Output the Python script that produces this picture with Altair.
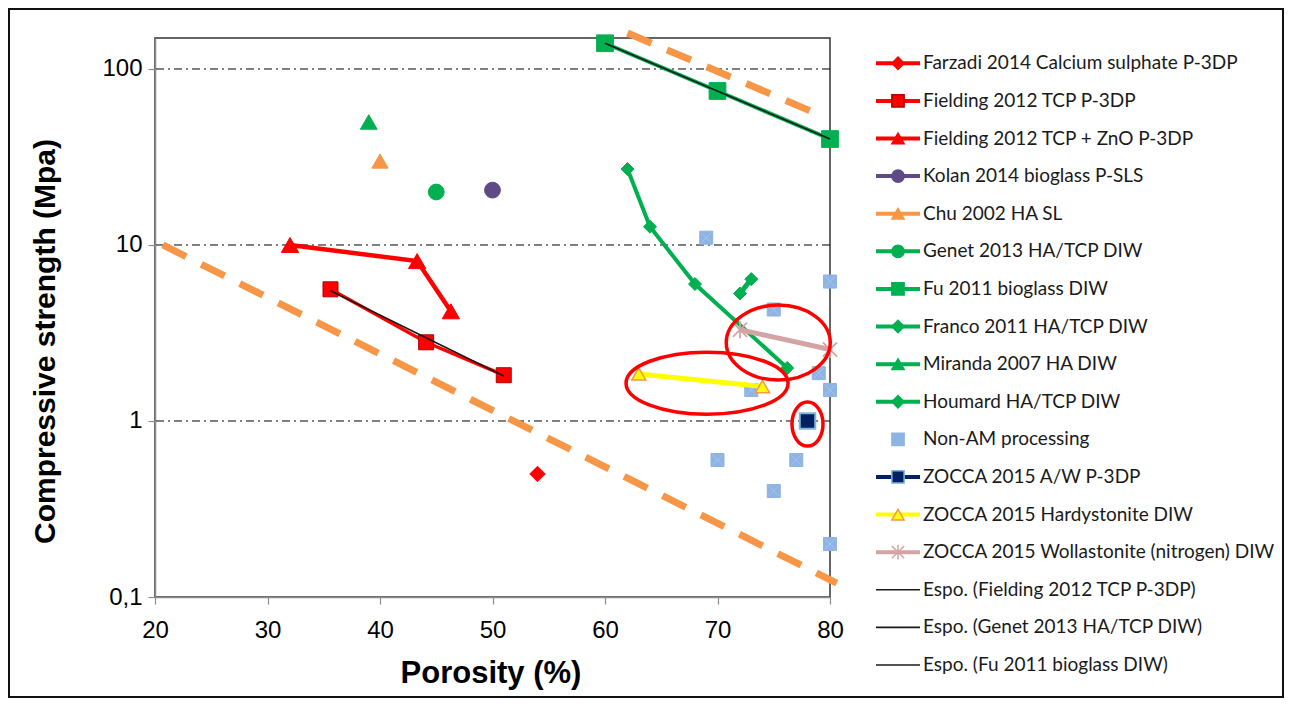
import altair as alt
import pandas as pd

# ---------------- data ----------------
farzadi_x = [54.0]
farzadi_y = [0.50]
fielding_x = [35.6, 44.1, 51.0]
fielding_y = [5.6, 2.8, 1.82]
fielding_zno_x = [32.0, 43.3, 46.3]
fielding_zno_y = [10.0, 8.1, 4.2]
kolan_x = [50.0]
kolan_y = [20.5]
chu_x = [40.0]
chu_y = [30.0]
genet_x = [45.0]
genet_y = [20.0]
fu_x = [60.0, 70.0, 80.0]
fu_y = [140.0, 75.0, 40.0]
franco_x = [62.0, 64.0, 68.0, 76.2]
franco_y = [27.0, 12.7, 6.0, 2.0]
miranda_x = [39.0]
miranda_y = [50.0]
houmard_x = [72.0, 73.0]
houmard_y = [5.3, 6.4]
nonam_x = [69.0, 80.0, 75.0, 79.0, 73.0, 80.0, 70.0, 77.0, 75.0, 80.0]
nonam_y = [11.0, 6.2, 4.3, 1.87, 1.5, 1.5, 0.6, 0.6, 0.4, 0.2]
aw_x = [78.0]
aw_y = [1.0]
hardy_x = [63.0, 74.0]
hardy_y = [1.85, 1.57]
woll_x = [72.0, 80.0]
woll_y = [3.3, 2.55]
trend_fielding_x = [35.6, 51.0]
trend_fielding_y = [5.5, 1.8]
trend_fu_x = [60.0, 80.0]
trend_fu_y = [140.0, 40.0]
bound_low_x = [20.7, 80.6]
bound_low_y = [10.0, 0.12]
bound_high_x = [62.0, 78.2]
bound_high_y = [160.0, 58.0]
ellipse_x = [69.07, 75.4, 78.0]
ellipse_y = [1.64, 2.79, 0.96]
grid_vals = [1, 10, 100]
y_ticks = [0.1, 1, 10, 100]
x_ticks = [20, 30, 40, 50, 60, 70, 80]

legend_names = [
    "Farzadi 2014 Calcium sulphate P-3DP",
    "Fielding 2012 TCP P-3DP",
    "Fielding 2012 TCP + ZnO P-3DP",
    "Kolan 2014 bioglass P-SLS",
    "Chu 2002 HA SL",
    "Genet 2013 HA/TCP DIW",
    "Fu 2011 bioglass DIW",
    "Franco 2011 HA/TCP DIW",
    "Miranda 2007 HA DIW",
    "Houmard HA/TCP DIW",
    "Non-AM processing",
    "ZOCCA 2015 A/W P-3DP",
    "ZOCCA 2015 Hardystonite DIW",
    "ZOCCA 2015 Wollastonite (nitrogen) DIW",
    "Espo. (Fielding 2012 TCP P-3DP)",
    "Espo. (Genet 2013 HA/TCP DIW)",
    "Espo. (Fu 2011 bioglass DIW)",
]

# ---------------- styles ----------------
RED = "#ff0000"
DARKRED = "#b00000"
PURPLE = "#5f4a86"
ORANGE = "#f79646"
GREEN = "#00b050"
LBLUE = "#8eb4e3"
NAVY = "#002060"
NAVY_EDGE = "#7fb6dc"
YELLOW = "#ffff00"
PINK = "#d4a3a3"
TREND = "#1a1a1a"

W, H = 675, 559
ASTER = "M -1 -1 L 1 1 M -1 1 L 1 -1 M 0 -1.2 L 0 1.2"
XMARK = "M -0.8 -0.8 L 0.8 0.8 M -0.8 0.8 L 0.8 -0.8"


def ellipse_path(rx, ry):
    k = 0.5523
    return (f"M {rx} 0 C {rx} {k*ry} {k*rx} {ry} 0 {ry} "
            f"C {-k*rx} {ry} {-rx} {k*ry} {-rx} 0 "
            f"C {-rx} {-k*ry} {-k*rx} {-ry} 0 {-ry} "
            f"C {k*rx} {-ry} {rx} {-k*ry} {rx} 0 Z")


X_AXIS = alt.Axis(values=x_ticks, title="Porosity (%)", grid=False,
                  domainColor="#8c8c8c", domainWidth=1.5, tickColor="#8c8c8c",
                  tickSize=7, tickWidth=1.2, labelFont="Liberation Sans",
                  labelFontSize=24, labelColor="#000", labelPadding=14,
                  titleFont="Liberation Sans", titleFontSize=31, titleFontWeight="bold",
                  titleColor="#000", titleX=W / 2 - 2, titleY=76, titleBaseline="middle",
                  labelFlush=False)


def X():
    return alt.X("x:Q", scale=alt.Scale(domain=[20, 80], nice=False, zero=False),
                 axis=X_AXIS)


def Y(axis=False):
    ax = None
    if axis:
        ax = alt.Axis(values=y_ticks, title="Compressive strength (Mpa)", grid=False,
                      labelExpr="datum.value < 1 ? '0,1' : format(datum.value, '.0f')",
                      domainColor="#8c8c8c", domainWidth=1.5, tickColor="#8c8c8c",
                      tickSize=7, tickWidth=1.2, labelFont="Liberation Sans",
                      labelFontSize=24, labelColor="#000", labelPadding=6,
                      titleFont="Liberation Sans", titleFontSize=30, titleFontWeight="bold",
                      titleColor="#000", titleX=-110, titleY=303, titleBaseline="middle",
                      titleAngle=270, labelFlush=False)
    return alt.Y("y:Q", scale=alt.Scale(type="log", domain=[0.1, 150], nice=False), axis=ax)


def df(xs, ys):
    return pd.DataFrame({"x": xs, "y": ys})


layers = []

# gridlines (dash-dot)
layers.append(
    alt.Chart(pd.DataFrame({"y": grid_vals})).mark_rule(
        color="#000", strokeWidth=1, strokeDash=[8, 4, 2, 4]
    ).encode(y=Y())
)

# axes carrier (invisible)
layers.append(
    alt.Chart(df(farzadi_x, farzadi_y)).mark_point(opacity=0).encode(x=X(), y=Y(True))
)

# orange dashed bounds
for bx, by in [(bound_low_x, bound_low_y), (bound_high_x, bound_high_y)]:
    layers.append(
        alt.Chart(df(bx, by)).mark_line(color=ORANGE, strokeWidth=7, strokeDash=[26, 17],
                                        strokeCap="butt", clip=False).encode(x=X(), y=Y())
    )


def series(xs, ys, color, shape=None, size=220, line=False, lw=4, fill=None,
           stroke=None, sw=1, filled=True):
    base = alt.Chart(df(xs, ys)).encode(x=X(), y=Y())
    out = []
    if line:
        out.append(base.mark_line(color=color, strokeWidth=lw))
    if shape is not None:
        out.append(base.mark_point(shape=shape, size=size, filled=filled,
                                   fill=fill or color, stroke=stroke or color,
                                   strokeWidth=sw, opacity=1))
    return out


layers += series(farzadi_x, farzadi_y, RED, "diamond", size=240)
layers += series(fielding_x, fielding_y, RED, "square", size=225, line=True, lw=3.5,
                 stroke=DARKRED)
layers += series(fielding_zno_x, fielding_zno_y, RED, "triangle-up", size=300, line=True, lw=4.5)
layers += series(kolan_x, kolan_y, PURPLE, "circle", size=250)
layers += series(chu_x, chu_y, ORANGE, "triangle-up", size=270)
layers += series(genet_x, genet_y, GREEN, "circle", size=250)
layers += series(fu_x, fu_y, GREEN, "square", size=280, line=True, lw=4)
layers += series(franco_x, franco_y, GREEN, "diamond", size=170, line=True, lw=4)
layers += series(miranda_x, miranda_y, GREEN, "triangle-up", size=280)
layers += series(houmard_x, houmard_y, GREEN, "diamond", size=170, line=True, lw=5)
layers += series(nonam_x, nonam_y, LBLUE, "square", size=170)
layers.append(
    alt.Chart(df(nonam_x, nonam_y)).mark_point(shape=XMARK, size=170, filled=False,
                                               stroke="#a9c4e8", strokeWidth=1,
                                               opacity=1).encode(x=X(), y=Y())
)
layers += series(aw_x, aw_y, NAVY, "square", size=240, stroke=NAVY_EDGE, sw=2)
layers += series(hardy_x, hardy_y, YELLOW, "triangle-up", size=200, line=True, lw=5,
                 stroke=ORANGE, sw=1.5)
layers += series(woll_x, woll_y, PINK, line=True, lw=5)
layers.append(
    alt.Chart(df(woll_x, woll_y)).mark_point(shape=ASTER, size=200, filled=False,
                                             stroke=PINK, strokeWidth=1.8,
                                             opacity=1).encode(x=X(), y=Y())
)

# exponential trendlines
for tx, ty in [(trend_fielding_x, trend_fielding_y), (trend_fu_x, trend_fu_y)]:
    layers.append(
        alt.Chart(df(tx, ty)).mark_line(color=TREND, strokeWidth=1.6).encode(x=X(), y=Y())
    )

# red highlight ellipses
ell_specs = [(1.0, 0.383, 162 ** 2), (1.0, 0.721, 104 ** 2), (0.705, 1.0, 44 ** 2)]
for i, (rx, ry, sz) in enumerate(ell_specs):
    layers.append(
        alt.Chart(df([ellipse_x[i]], [ellipse_y[i]])).mark_point(
            shape=ellipse_path(rx, ry), size=sz, filled=False, stroke=RED,
            strokeWidth=3.5, opacity=1, clip=False
        ).encode(x=X(), y=Y())
    )

# ---------------- custom legend ----------------
LY = alt.Y("name:N", scale=alt.Scale(type="point", domain=legend_names,
                                     range=[25.3, 627.0], padding=0), axis=None)
LX0, LX1, LXM, LXT = 721, 765, 743, 768

line_names = legend_names[:10] + legend_names[11:14]
line_colors = [RED, RED, RED, PURPLE, ORANGE, GREEN, GREEN, GREEN, GREEN, GREEN,
               NAVY, YELLOW, PINK]
layers.append(
    alt.Chart(pd.DataFrame({"name": line_names})).mark_rule(strokeWidth=4).encode(
        y=LY, x=alt.value(LX0), x2=alt.value(LX1),
        color=alt.Color("name:N", scale=alt.Scale(domain=line_names, range=line_colors),
                        legend=None)
    )
)
layers.append(
    alt.Chart(pd.DataFrame({"name": legend_names[14:]})).mark_rule(
        strokeWidth=1.6, color=TREND
    ).encode(y=LY, x=alt.value(LX0), x2=alt.value(LX1))
)

mk_names = legend_names[:14]
mk_shapes = ["diamond", "square", "triangle-up", "circle", "triangle-up", "circle",
             "square", "diamond", "triangle-up", "diamond", "square", "square",
             "triangle-up", ASTER]
mk_fill = [RED, RED, RED, PURPLE, ORANGE, GREEN, GREEN, GREEN, GREEN, GREEN, LBLUE,
           NAVY, YELLOW, PINK]
mk_stroke = [RED, DARKRED, RED, PURPLE, ORANGE, GREEN, GREEN, GREEN, GREEN, GREEN,
             LBLUE, NAVY_EDGE, ORANGE, PINK]
layers.append(
    alt.Chart(pd.DataFrame({"name": mk_names})).mark_point(
        filled=True, size=150, strokeWidth=1.5, opacity=1
    ).encode(
        y=LY, x=alt.value(LXM),
        shape=alt.Shape("name:N", scale=alt.Scale(domain=mk_names, range=mk_shapes),
                        legend=None),
        fill=alt.Fill("name:N", scale=alt.Scale(domain=mk_names, range=mk_fill),
                      legend=None),
        stroke=alt.Stroke("name:N", scale=alt.Scale(domain=mk_names, range=mk_stroke),
                          legend=None),
    )
)
layers.append(
    alt.Chart(pd.DataFrame({"name": legend_names})).mark_text(
        align="left", baseline="middle", font="Lato", fontSize=19, color="#1a1a1a"
    ).encode(y=LY, x=alt.value(LXT), text="name:N")
)

# outer frame of the whole figure
layers.append(
    alt.Chart(pd.DataFrame({"a": [0]})).mark_rect(
        fillOpacity=0, stroke="#111", strokeWidth=2, clip=False
    ).encode(x=alt.value(-146), x2=alt.value(1128), y=alt.value(-29), y2=alt.value(659))
)

chart = alt.layer(*layers).resolve_scale(y="independent").properties(
    width=W, height=H,
    autosize=alt.AutoSizeParams(type="none"),
    padding={"left": 147, "top": 30, "right": 455, "bottom": 101},
    background="white",
).configure_view(stroke="#333", strokeWidth=1.5)

chart.save("out.html", embed_options={"renderer": "svg", "actions": False})
